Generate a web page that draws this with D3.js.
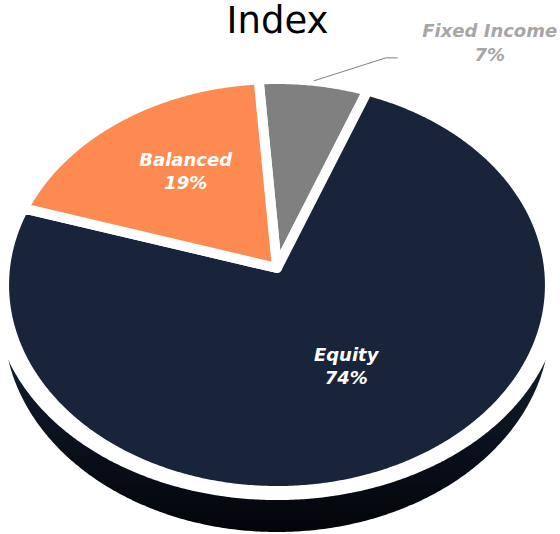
<!DOCTYPE html>
<html>
<head>
<meta charset="utf-8">
<script src="https://cdn.jsdelivr.net/npm/d3@7"></script>
<style>
  html, body { margin: 0; padding: 0; background: #fff; }
  svg { display: block; }
</style>
</head>
<body>
<div id="chart"></div>
<script>
// data
const title = "Index";
const categories = ["Fixed Income", "Equity", "Balanced"];
const shares = [7, 74, 19];
const sliceColors = ["#808080", "#18243a", "#fd8a50"];
const labelColors = ["#a6a6a6", "#ffffff", "#ffffff"];

const width = 560, height = 534;

// 3d look: pie lying flat, seen from above with a bit of perspective
const CX = 277, CY = 268;   // where the pie centre lands on screen
const RX = 272, RY = 204.6; // half width, half height of the top face
const K = 0.0826;           // perspective strength
const startDeg = -4.2;
const sideDrop = 37.6;      // thickness of the pie
const gapDrop = 8.3;        // white gap between top and side
const gapStretch = 1.04;

function project(theta, r, drop = 0, sx = 1) {
    const s = -Math.cos(theta) * r;
    const f = 1 / (1 - K * s);
    return [CX + sx * RX * r * Math.sin(theta) * f, CY + RY * s * f + drop * f];
}

const toRad = d => d * Math.PI / 180;
const step = toRad(0.5);

function arcPoints(a0, a1, r, drop, sx) {
    const pts = d3.range(a0, a1, step).map(t => project(t, r, drop, sx));
    pts.push(project(a1, r, drop, sx));
    return pts;
}

const line = d3.line().curve(d3.curveLinear);

const svg = d3.select("#chart").append("svg")
    .attr("width", width)
    .attr("height", height)
    .attr("viewBox", [0, 0, width, height]);

const defs = svg.append("defs");
const grad = defs.append("linearGradient")
    .attr("id", "sideGrad")
    .attr("gradientUnits", "userSpaceOnUse")
    .attr("x1", 0).attr("y1", 330).attr("x2", 0).attr("y2", 534);
grad.append("stop").attr("offset", 0).attr("stop-color", "#182236");
grad.append("stop").attr("offset", 0.5).attr("stop-color", "#0b1220");
grad.append("stop").attr("offset", 1).attr("stop-color", "#020408");

const pie = d3.pie()
    .sort(null)
    .startAngle(toRad(startDeg))
    .endAngle(toRad(startDeg) + 2 * Math.PI)
    .value(d => d);

const arcs = pie(shares);

// side of the pie: lower copy of the outline, then a white copy on top of it
const full = [0, 2 * Math.PI];
svg.append("path")
    .attr("class", "side")
    .attr("d", line(arcPoints(full[0], full[1], 1, sideDrop, 1)) + "Z")
    .attr("fill", "url(#sideGrad)");

svg.append("path")
    .attr("class", "side-gap")
    .attr("d", line(arcPoints(full[0], full[1], 1, gapDrop, gapStretch)) + "Z")
    .attr("fill", "#fff");

// top faces
svg.append("g")
    .selectAll("path")
    .data(arcs)
    .join("path")
    .attr("d", d => line([project(0, 0)].concat(arcPoints(d.startAngle, d.endAngle, 1, 0, 1))) + "Z")
    .attr("fill", (d, i) => sliceColors[i])
    .attr("stroke", "#fff")
    .attr("stroke-width", 10)
    .attr("stroke-linejoin", "round");

// labels
const labelFont = "'DejaVu Sans', Verdana, sans-serif";
const insideR = 0.56;

arcs.forEach((d, i) => {
    const mid = (d.startAngle + d.endAngle) / 2;
    const txt = [categories[i], shares[i] + "%"];
    if (shares[i] >= 10) {
        const [x, y] = project(mid, insideR);
        const t = svg.append("text")
            .attr("x", x)
            .attr("y", y)
            .attr("text-anchor", "middle")
            .attr("font-family", labelFont)
            .attr("font-size", 18)
            .attr("font-weight", "bold")
            .attr("font-style", "italic")
            .attr("fill", labelColors[i]);
        t.append("tspan").attr("x", x).attr("dy", -15).text(txt[0]);
        t.append("tspan").attr("x", x).attr("dy", 23).text(txt[1]);
    } else {
        // outside label with a connector
        const p0 = project(mid, 1);
        const p1 = [p0[0] + 72, p0[1] - 23];
        const p2 = [p1[0] + 12, p1[1]];
        svg.append("path")
            .attr("d", line([p0, p1, p2]))
            .attr("fill", "none")
            .attr("stroke", "#808080")
            .attr("stroke-width", 1);
        const x = p2[0] + 92;
        const t = svg.append("text")
            .attr("x", x)
            .attr("y", p1[1])
            .attr("text-anchor", "middle")
            .attr("font-family", labelFont)
            .attr("font-size", 18)
            .attr("font-weight", "bold")
            .attr("font-style", "italic")
            .attr("fill", labelColors[i]);
        t.append("tspan").attr("x", x).attr("dy", -21).text(txt[0]);
        t.append("tspan").attr("x", x).attr("dy", 24).text(txt[1]);
    }
});

svg.append("text")
    .attr("x", 277.5)
    .attr("y", 33)
    .attr("text-anchor", "middle")
    .attr("font-family", labelFont)
    .attr("font-size", 37)
    .attr("fill", "#000")
    .text(title);
</script>
</body>
</html>
